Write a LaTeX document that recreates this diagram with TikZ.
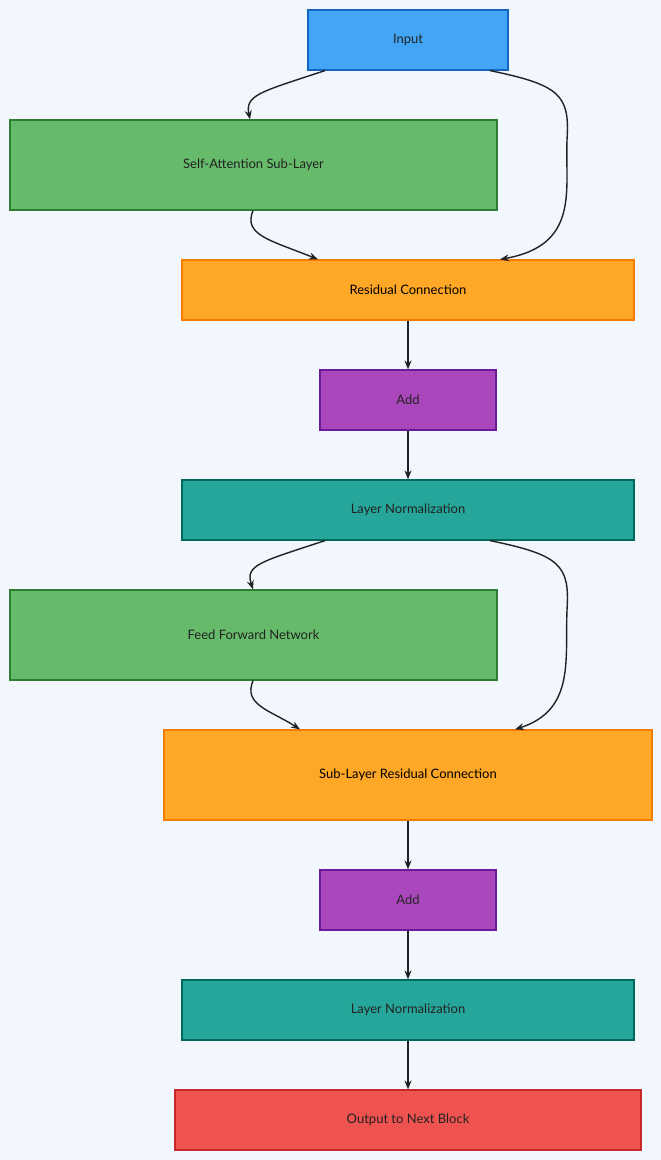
\documentclass[tikz,border=0pt]{standalone}
\usepackage{fontspec}
\setmainfont{Lato}
\usetikzlibrary{arrows.meta}
\definecolor{bg}{HTML}{F2F7FE}
\definecolor{cblue}{HTML}{42A5F5}\definecolor{dblue}{HTML}{1565C0}
\definecolor{cgreen}{HTML}{66BB6A}\definecolor{dgreen}{HTML}{2E7D32}
\definecolor{corange}{HTML}{FFA726}\definecolor{dorange}{HTML}{F57C00}
\definecolor{cpurple}{HTML}{AB47BC}\definecolor{dpurple}{HTML}{6A1B9A}
\definecolor{cteal}{HTML}{26A69A}\definecolor{dteal}{HTML}{00695C}
\definecolor{cred}{HTML}{EF5350}\definecolor{dred}{HTML}{C62828}
\definecolor{ink}{HTML}{222222}
\begin{document}
\begin{tikzpicture}[x=1pt,y=-1pt,
  box/.style={draw,line width=1.2pt,inner sep=0pt,text=ink,font=\fontsize{13}{15}\selectfont},
  arr/.style={draw=ink,line width=1.4pt,-{Stealth[length=9pt,width=7pt,open]}}]
\useasboundingbox[fill=bg] (0,0) rectangle (661,1160);
\node[box,fill=cblue,draw=dblue,minimum width=200pt,minimum height=60pt] (in) at (408,40) {Input};
\node[box,fill=cgreen,draw=dgreen,minimum width=487pt,minimum height=90pt] (sa) at (253.5,165) {Self-Attention Sub-Layer};
\node[box,fill=corange,draw=dorange,minimum width=452pt,minimum height=60pt,text=black] (rc) at (408,290) {Residual Connection};
\node[box,fill=cpurple,draw=dpurple,minimum width=176pt,minimum height=60pt] (a1) at (408,400) {Add};
\node[box,fill=cteal,draw=dteal,minimum width=452pt,minimum height=60pt] (ln1) at (408,510) {Layer Normalization};
\node[box,fill=cgreen,draw=dgreen,minimum width=487pt,minimum height=90pt] (ff) at (253.5,635) {Feed Forward Network};
\node[box,fill=corange,draw=dorange,minimum width=488pt,minimum height=90pt,text=black] (sr) at (408,775) {Sub-Layer Residual Connection};
\node[box,fill=cpurple,draw=dpurple,minimum width=176pt,minimum height=60pt] (a2) at (408,900) {Add};
\node[box,fill=cteal,draw=dteal,minimum width=452pt,minimum height=60pt] (ln2) at (408,1010) {Layer Normalization};
\node[box,fill=cred,draw=dred,minimum width=466pt,minimum height=60pt] (out) at (408,1120) {Output to Next Block};
% block 1
\draw[arr] (in.south -| 325,0) .. controls (260,92) and (245,95) .. (sa.north -| 250,0);
\draw[arr] (in.south -| 490,0) .. controls (560,85) and (570,95) .. (567,140) .. controls (565,190) and (580,245) .. (rc.north -| 500,0);
\draw[arr] (sa.south -| 253,0) .. controls (243,235) and (270,240) .. (rc.north -| 318,0);
\draw[arr] (rc) -- (a1);
\draw[arr] (a1) -- (ln1);
% block 2
\draw[arr] (ln1.south -| 325,0) .. controls (260,562) and (245,565) .. (ff.north -| 253,0);
\draw[arr] (ln1.south -| 490,0) .. controls (560,555) and (570,565) .. (567,610) .. controls (565,660) and (575,710) .. (sr.north -| 515,0);
\draw[arr] (ff.south -| 253,0) .. controls (243,705) and (270,710) .. (sr.north -| 300,0);
\draw[arr] (sr) -- (a2);
\draw[arr] (a2) -- (ln2);
\draw[arr] (ln2) -- (out);
\end{tikzpicture}
\end{document}
